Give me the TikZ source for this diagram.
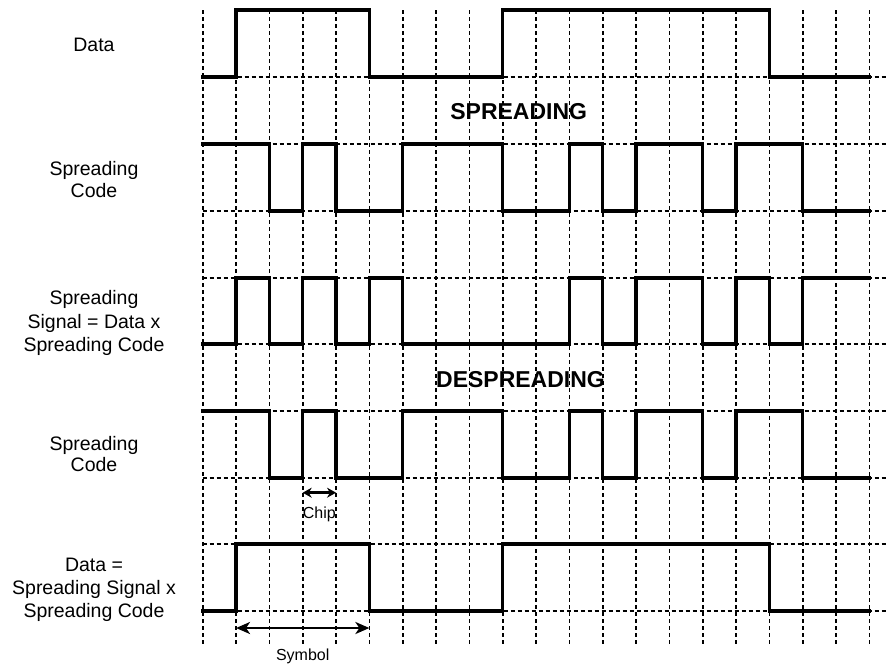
\documentclass[tikz,border=0pt]{standalone}
\usepackage{fontspec}
\setmainfont{Liberation Sans}
\usetikzlibrary{arrows.meta}
\begin{document}
\begin{tikzpicture}[x=1pt,y=-1pt,
  gridline/.style={line width=1.6pt,dash pattern=on 4pt off 3pt},
  wave/.style={line width=3.2pt,line join=miter,line cap=rect},
  lbl/.style={font={\fontsize{19.5}{21.7}\selectfont},align=center,inner sep=0pt},
  lblthree/.style={font={\fontsize{19.5}{23.3}\selectfont},align=center,inner sep=0pt},
  heading/.style={font={\fontsize{23}{26}\selectfont\bfseries},inner sep=0pt},
  small/.style={font={\fontsize{16}{19}\selectfont},inner sep=0pt},
  dimarrow/.style={line width=2.5pt}]
\useasboundingbox (0,0) rectangle (888,667);
\fill[white] (0,0) rectangle (888,667);

\begin{scope}[xshift=202.7pt,x=33.3333pt]
  % grid
  \foreach \k in {0,...,20}
    \draw[gridline] (\k,10) -- (\k,644);
  \foreach \yy in {77,144,211,278,344,411,478,544,611}
    \draw[gridline] (0,\yy) -- (20.7,\yy);

  % Data
  \draw[wave] (0,77) -| (1,10) -| (5,77) -| (9,10) -| (17,77) -- (20,77);
  % Spreading code
  \draw[wave] (0,144) -| (2,211) -| (3,144) -| (4,211) -| (6,144) -| (9,211)
     -| (11,144) -| (12,211) -| (13,144) -| (15,211) -| (16,144) -| (18,211) -- (20,211);
  % Spreading signal
  \draw[wave] (0,344) -| (1,278) -| (2,344) -| (3,278) -| (4,344) -| (5,278)
     -| (6,344) -| (11,278) -| (12,344) -| (13,278) -| (15,344) -| (16,278)
     -| (17,344) -| (18,278) -- (20,278);
  % Despreading code
  \draw[wave] (0,411) -| (2,478) -| (3,411) -| (4,478) -| (6,411) -| (9,478)
     -| (11,411) -| (12,478) -| (13,411) -| (15,478) -| (16,411) -| (18,478) -- (20,478);
  % Recovered data
  \draw[wave] (0,611) -| (1,544) -| (5,611) -| (9,544) -| (17,611) -- (20,611);

  % dimension arrows
  \coordinate (chipA) at (3,492.7);
  \coordinate (chipB) at (4,492.7);
  \coordinate (symA) at (1,628);
  \coordinate (symB) at (5,628);
  \draw[dimarrow,{Stealth[length=9pt,width=10pt]}-{Stealth[length=9pt,width=10pt]}] (chipA) -- (chipB);
  \draw[dimarrow,{Stealth[length=14pt,width=12pt,inset=4pt]}-{Stealth[length=14pt,width=12pt,inset=4pt]}] (symA) -- (symB);
\end{scope}

% labels
\node[lbl] (ldata) at (94,45) {Data};
\node[lbl] (lcode1) at (94,179.5) {Spreading\\Code};
\node[lblthree] (lsig) at (94,323) {Spreading\\Signal = Data x\\Spreading Code};
\node[lbl] (lcode2) at (94,454) {Spreading\\Code};
\node[lblthree] (lrec) at (94,590) {Data =\\Spreading Signal x\\Spreading Code};

\node[heading] (hspread) at (518.7,111.3) {SPREADING};
\node[heading] (hdespread) at (520.5,380) {DESPREADING};

\node[small] (lchip) at (319.3,514) {Chip};
\node[small] (lsym) at (302.7,656) {Symbol};
\end{tikzpicture}
\end{document}
